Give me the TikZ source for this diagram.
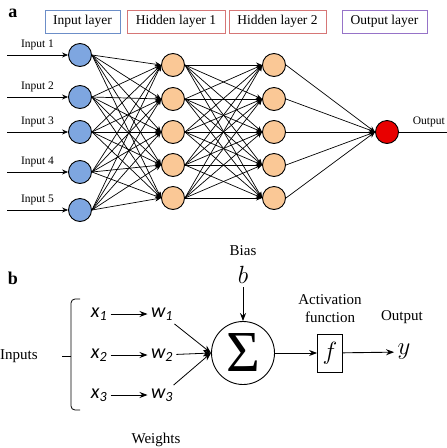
\documentclass[tikz,border=0pt]{standalone}
\usepackage{amsmath}
\usepackage{fontspec}
\setmainfont{Liberation Serif}
\newfontfamily\calfont{Carlito}
\usetikzlibrary{arrows.meta}
\definecolor{inblue}{RGB}{126,166,224}
\definecolor{hidorange}{RGB}{250,200,150}
\definecolor{outred}{RGB}{232,0,0}
\definecolor{boxblue}{RGB}{108,142,200}
\definecolor{boxred}{RGB}{214,118,118}
\definecolor{boxpurple}{RGB}{150,115,200}

\begin{document}
\begin{tikzpicture}[
  x=1pt,y=-1pt,
  font=\fontsize{11.5}{12}\selectfont,
  neuron/.style={circle,draw,line width=0.9pt,minimum size=23pt,inner sep=0pt},
  layerbox/.style={draw,line width=0.8pt,minimum height=23pt,inner sep=2pt,font=\fontsize{13.5}{14}\selectfont},
  edge/.style={-{Stealth[length=6pt,width=5pt]},line width=0.7pt},
  lbl/.style={font=\fontsize{15}{18}\selectfont},
  var/.style={font=\fontsize{20}{20}\selectfont\calfont\itshape},
  big/.style={font=\fontsize{25}{25}\selectfont},
  >={Stealth[length=8pt,width=6pt]}
]
\useasboundingbox (0,0) rectangle (447,448);
% ---- (a) network ----
\node[font=\fontsize{18}{18}\selectfont\bfseries] (la) at (13,13) {a};
\node[layerbox,draw=boxblue,minimum width=75pt] (tin) at (82.5,21.5) {Input layer};
\node[layerbox,draw=boxred,minimum width=98pt] (th1) at (176,21.5) {Hidden layer 1};
\node[layerbox,draw=boxred,minimum width=97pt] (th2) at (277.5,21.5) {Hidden layer 2};
\node[layerbox,draw=boxpurple,minimum width=85pt] (tout) at (384.5,21.5) {Output layer};
\foreach \k/\y in {1/55,2/97,3/132,4/172,5/210} {
  \node[neuron,fill=inblue] (i\k) at (80,\y) {};
  \coordinate (s\k) at (7,\y);
  \draw[edge] (s\k) -- node[above=1pt]{Input \k} (i\k);
}
\foreach \k/\y in {1/65,2/99,3/132,4/165,5/198} {
  \node[neuron,fill=hidorange] (h\k) at (173,\y) {};
  \node[neuron,fill=hidorange] (g\k) at (274,\y) {};
}
\node[neuron,fill=outred] (o) at (387,132) {};
\foreach \a in {1,...,5} {
  \foreach \b in {1,...,5} {
    \draw[edge] (i\a.east) -- (h\b.west);
    \draw[edge] (h\a.east) -- (g\b.west);
  }
  \draw[edge] (g\a.east) -- (o.west);
}
\coordinate (oend) at (447,132);
\draw[line width=0.7pt] (o) -- node[above=1pt,pos=0.62]{Output} (oend);
% ---- (b) single neuron ----
\node[font=\fontsize{18}{18}\selectfont\bfseries] (lb) at (13,278) {b};
\node[lbl] (bias) at (243,251) {Bias};
\node[big] (bb) at (243,275) {$b$};
\node[circle,draw,line width=0.9pt,minimum size=63pt,inner sep=0pt] (sig) at (243,353)
  {\fontsize{58}{58}\selectfont Σ};
\draw[->,line width=0.8pt] (bb) -- (sig);
\node[lbl] (inputs) at (19,356) {Inputs};
\draw[line width=0.8pt,rounded corners=4pt] (80,299) -- (71,299) -- (71,410) -- (80,410);
\draw[line width=0.8pt] (71,356) -- (62,356);
\foreach \k/\y in {1/314,2/355,3/395} {
  \node[var] (x\k) at (99,\y) {x\textsubscript{\k}};
  \node[var] (w\k) at (162,\y) {w\textsubscript{\k}};
  \draw[->,line width=0.9pt] (x\k) -- (w\k);
  \draw[->,line width=0.8pt] (w\k) -- (sig.west);
}
\node[lbl] (wts) at (156,440) {Weights};
\node[draw,line width=0.8pt,minimum width=25pt,minimum height=38pt,inner sep=0pt,big] (f) at (330,353) {$f$};
\node[lbl,align=center] (act) at (330,309) {Activation\\function};
\node[lbl] (outb) at (402,317) {Output};
\node[big] (yy) at (404,352) {$y$};
\draw[->,line width=0.9pt] (sig) -- (f);
\draw[->,line width=0.9pt] (f) -- (yy);
\end{tikzpicture}
\end{document}
